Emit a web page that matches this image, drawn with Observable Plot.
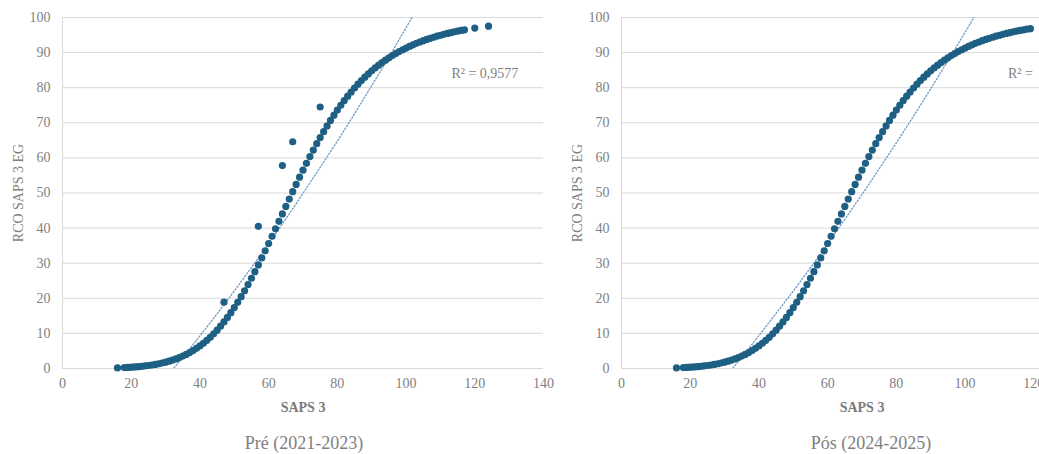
<!DOCTYPE html>
<html><head><meta charset="utf-8">
<script src="https://cdn.jsdelivr.net/npm/d3@7"></script>
<script src="https://cdn.jsdelivr.net/npm/@observablehq/plot@0.6"></script>
<style>
html,body{margin:0;padding:0;background:#fff;}
#wrap{position:relative;width:1039px;height:454px;overflow:hidden;background:#fff;font-family:"Liberation Serif","Times New Roman",serif;}
.panel{position:absolute;top:0;}
.caption{position:absolute;top:432px;font-size:18px;color:#7f7f7f;transform:translateX(-50%);white-space:nowrap;line-height:22px;}
svg [aria-label="x-axis label"] text{font-weight:bold;fill:#7a7a7a;}
</style></head><body><div id="wrap"></div>
<script>
// SAPS 3 score -> RCO SAPS 3 EG (%)
const curveScore = [
  16,17,18,19,20,21,22,23,24,25,
  26,27,28,29,30,31,32,33,34,35,
  36,37,38,39,40,41,42,43,44,45,
  46,47,48,49,50,51,52,53,54,55,
  56,57,58,59,60,61,62,63,64,65,
  66,67,68,69,70,71,72,73,74,75,
  76,77,78,79,80,81,82,83,84,85,
  86,87,88,89,90,91,92,93,94,95,
  96,97,98,99,100,101,102,103,104,105,
  106,107,108,109,110,111,112,113,114,115,
  116,117,118,119,120,124
];
const curveRco = [
  0.17,0.21,0.25,0.31,0.37,0.44,0.52,0.62,0.73,0.85,
  1.00,1.16,1.35,1.57,1.81,2.08,2.39,2.73,3.11,3.54,
  4.01,4.53,5.11,5.74,6.43,7.19,8.02,8.91,9.88,10.93,
  12.05,13.26,14.54,15.90,17.35,18.87,20.47,22.15,23.90,25.71,
  27.58,29.52,31.50,33.53,35.59,37.68,39.79,41.92,44.04,46.17,
  48.29,50.38,52.45,54.50,56.50,58.46,60.37,62.23,64.04,65.79,
  67.48,69.11,70.67,72.18,73.62,75.00,76.32,77.58,78.77,79.91,
  81.00,82.04,83.00,83.92,84.80,85.63,86.41,87.15,87.85,88.51,
  89.14,89.73,90.28,90.81,91.30,91.77,92.21,92.63,93.02,93.39,
  93.74,94.07,94.38,94.67,94.95,95.21,95.45,95.69,95.91,96.11,
  96.31,96.49,96.67,96.83,96.99,97.54
];

// Scores present in each period
const preScore = [
  16,18,19,20,21,22,23,24,25,26,27,28,29,30,31,32,33,34,35,36,37,38,39,40,
  41,42,43,44,45,46,47,48,49,50,51,52,53,54,55,56,57,58,59,60,61,62,63,64,65,
  66,67,68,69,70,71,72,73,74,75,76,77,78,79,80,81,82,83,84,85,86,87,88,89,90,
  91,92,93,94,95,96,97,98,99,100,101,102,103,104,105,106,107,108,109,110,
  111,112,113,114,115,116,117,120,124
];
const preOutlierScore = [47, 57, 64, 67, 75];
const preOutlierRco   = [18.9, 40.5, 57.8, 64.6, 74.5];

const posScore = [
  16,18,19,20,21,22,23,24,25,26,27,28,29,30,31,32,33,34,35,36,37,38,39,40,
  41,42,43,44,45,46,47,48,49,50,51,52,53,54,55,56,57,58,59,60,61,62,63,64,65,
  66,67,68,69,70,71,72,73,74,75,76,77,78,79,80,81,82,83,84,85,86,87,88,89,90,
  91,92,93,94,95,96,97,98,99,100,101,102,103,104,105,106,107,108,109,110,
  111,112,113,114,115,116,117,118,119
];

// Dotted trendlines
const trendScore  = [30,35,40,45,50,55,60,65,70,75,80,85,90,95,100,105];
const preTrendRco = [-2.7,3.2,9.3,15.6,22.1,28.8,35.6,42.6,49.9,57.3,64.8,72.6,80.6,88.7,97.1,105.6];
const posTrendRco = [-2.7,3.2,9.4,15.7,22.1,28.7,35.5,42.5,49.6,56.9,64.3,71.9,79.7,87.7,95.8,104.0];

const xTicks = [0,20,40,60,80,100,120,140];
const yTicks = [0,10,20,30,40,50,60,70,80,90,100];
const r2Score = [113.2, 112.5];
const r2Rco = [84, 84];
const r2Text = ["R² = 0,9577", "R² ="];
const captions = ["Pré (2021-2023)", "Pós (2024-2025)"];

const rcoOf = new Map(curveScore.map((s, i) => [s, curveRco[i]]));
const toPts = (scores) => scores.map(s => ({score: s, rco: rcoOf.get(s)}));
const prePts = toPts(preScore).concat(preOutlierScore.map((s, i) => ({score: s, rco: preOutlierRco[i]})));
const posPts = toPts(posScore);
const preTrend = trendScore.map((s, i) => ({score: s, rco: preTrendRco[i]}));
const posTrend = trendScore.map((s, i) => ({score: s, rco: posTrendRco[i]}));

function panel(points, trend, r2i, marginLeft) {
  return Plot.plot({
    width: marginLeft + 481 + 17, height: 420,
    marginLeft, marginRight: 17, marginTop: 17, marginBottom: 52,
    style: {fontFamily: "'Liberation Serif', 'Times New Roman', serif", fontSize: "14px", color: "#7f7f7f", background: "transparent", overflow: "visible"},
    x: {domain: [0, 140], ticks: xTicks, tickSize: 0, tickPadding: 10, label: "SAPS 3", labelAnchor: "center", labelArrow: "none", labelOffset: 43},
    y: {domain: [0, 100], ticks: yTicks, tickSize: 0, tickPadding: 12, label: "RCO SAPS 3 EG", labelAnchor: "center", labelArrow: "none", labelOffset: 49},
    marks: [
      Plot.gridY(yTicks, {stroke: "#d9d9d9", strokeOpacity: 1, strokeWidth: 1}),
      Plot.ruleX([0], {stroke: "#d9d9d9", strokeWidth: 1}),
      Plot.line(trend, {x: "score", y: "rco", stroke: "#6b9ac4", strokeWidth: 1.3, strokeDasharray: "1.3,2", curve: "natural", clip: true}),
      Plot.dot(points, {x: "score", y: "rco", r: 3.6, fill: "#1e5f84"}),
      Plot.text([r2i], {x: i => r2Score[i], y: i => r2Rco[i], text: i => r2Text[i], textAnchor: "start", fill: "#7f7f7f", fontSize: 14})
    ]
  });
}

const wrap = document.getElementById("wrap");
const left = panel(prePts, preTrend, 0, 62);
left.classList.add("panel"); left.style.left = "0px";
const right = panel(posPts, posTrend, 1, 61);
right.classList.add("panel"); right.style.left = "560px";
wrap.appendChild(left); wrap.appendChild(right);

[[captions[0], 304], [captions[1], 871]].forEach(([t, cx]) => {
  const d = document.createElement("div");
  d.className = "caption"; d.textContent = t; d.style.left = cx + "px";
  wrap.appendChild(d);
});
</script></body></html>
